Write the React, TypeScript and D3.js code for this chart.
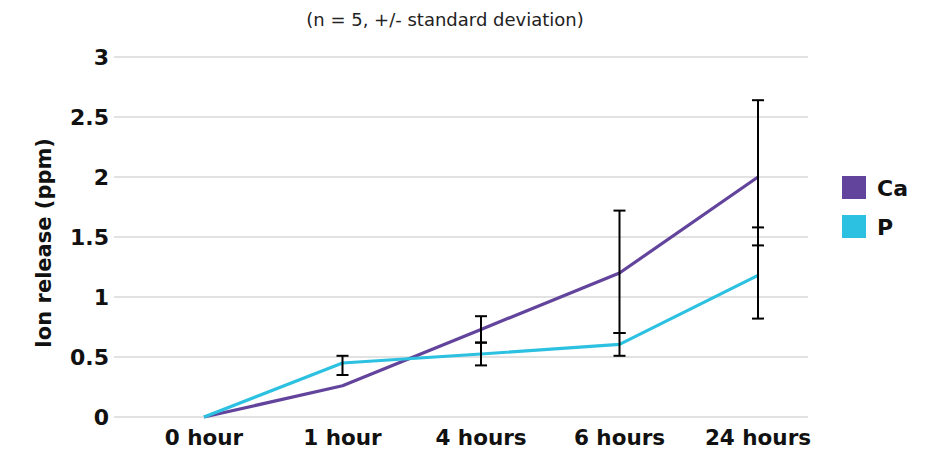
import React, { useEffect, useRef } from 'react';
import * as d3 from 'd3';

const WIDTH = 928;
const HEIGHT = 450;

const categories = ['0 hour', '1 hour', '4 hours', '6 hours', '24 hours'];
const yTicks = [0, 0.5, 1, 1.5, 2, 2.5, 3];

const caValues = [0, 0.26, 0.73, 1.2, 2.0];
const caHigh: (number | null)[] = [null, null, 0.84, 1.72, 2.64];
const caLow: (number | null)[] = [null, null, 0.62, 0.7, 1.43];

const pValues = [0, 0.45, 0.525, 0.605, 1.18];
const pHigh: (number | null)[] = [null, 0.51, 0.62, 0.7, 1.58];
const pLow: (number | null)[] = [null, 0.35, 0.43, 0.51, 0.82];

const CA_COLOR = '#63449c';
const P_COLOR = '#2cc1e0';
const FONT = '"DejaVu Sans", Verdana, sans-serif';

const margin = { left: 114, right: 120, top: 57, bottom: 33 };

const App: React.FC = () => {
  const svgRef = useRef<SVGSVGElement | null>(null);

  useEffect(() => {
    if (!svgRef.current) {
      return;
    }
    const svg = d3.select(svgRef.current);
    svg.selectAll('*').remove();

    const plotRight = WIDTH - margin.right;
    const plotBottom = HEIGHT - margin.bottom;

    const y = d3.scaleLinear().domain([0, 3]).range([plotBottom, margin.top]);
    // points sit a little right of centre in the plot area
    const x = d3.scalePoint<string>()
      .domain(categories)
      .range([margin.left + 90, plotRight - 50]);

    // gridlines
    svg.append('g')
      .selectAll('line')
      .data(yTicks)
      .join('line')
      .attr('x1', margin.left)
      .attr('x2', plotRight)
      .attr('y1', d => y(d))
      .attr('y2', d => y(d))
      .attr('stroke', '#d9d9d9')
      .attr('stroke-width', 1.5);

    // y tick labels
    svg.append('g')
      .attr('font-family', FONT)
      .attr('font-weight', 700)
      .attr('font-size', '22px')
      .attr('text-anchor', 'end')
      .attr('fill', '#111')
      .selectAll('text')
      .data(yTicks)
      .join('text')
      .attr('x', margin.left - 5)
      .attr('y', d => y(d))
      .attr('dy', '0.36em')
      .text(d => String(d));

    // x labels
    svg.append('g')
      .attr('font-family', FONT)
      .attr('font-weight', 700)
      .attr('font-size', '21.5px')
      .attr('text-anchor', 'middle')
      .attr('fill', '#111')
      .selectAll('text')
      .data(categories)
      .join('text')
      .attr('x', d => x(d) ?? 0)
      .attr('y', plotBottom + 28)
      .text(d => d);

    const line = d3.line<number>()
      .x((_, i) => x(categories[i]) ?? 0)
      .y(d => y(d));

    const series = [
      { name: 'Ca', values: caValues, high: caHigh, low: caLow, color: CA_COLOR },
      { name: 'P', values: pValues, high: pHigh, low: pLow, color: P_COLOR },
    ];

    series.forEach(s => {
      svg.append('path')
        .datum(s.values)
        .attr('d', line)
        .attr('fill', 'none')
        .attr('stroke', s.color)
        .attr('stroke-width', 3.2)
        .attr('stroke-linejoin', 'round');
    });

    // error bars
    const capHalf = 6;
    const bars = svg.append('g').attr('stroke', '#000').attr('stroke-width', 2);
    series.forEach(s => {
      categories.forEach((c, i) => {
        const hi = s.high[i];
        const lo = s.low[i];
        if (hi == null || lo == null) {
          return;
        }
        const cx = x(c) ?? 0;
        bars.append('line')
          .attr('x1', cx).attr('x2', cx)
          .attr('y1', y(hi)).attr('y2', y(lo));
        [hi, lo].forEach(v => {
          bars.append('line')
            .attr('x1', cx - capHalf).attr('x2', cx + capHalf)
            .attr('y1', y(v)).attr('y2', y(v));
        });
      });
    });

    // title
    svg.append('text')
      .attr('x', 445)
      .attr('y', 26)
      .attr('text-anchor', 'middle')
      .attr('font-family', FONT)
      .attr('font-size', '18px')
      .attr('fill', '#222')
      .text('(n = 5, +/- standard deviation)');

    // y axis title
    svg.append('text')
      .attr('transform', 'translate(51, 243) rotate(-90)')
      .attr('text-anchor', 'middle')
      .attr('font-family', FONT)
      .attr('font-weight', 700)
      .attr('font-size', '21px')
      .attr('fill', '#111')
      .text('Ion release (ppm)');

    // legend
    const legend = svg.append('g').attr('transform', 'translate(842, 176)');
    series.forEach((s, i) => {
      const row = legend.append('g').attr('transform', `translate(0, ${i * 39})`);
      row.append('rect')
        .attr('width', 24)
        .attr('height', 23)
        .attr('fill', s.color);
      row.append('text')
        .attr('x', 35)
        .attr('y', 20)
        .attr('font-family', FONT)
        .attr('font-weight', 700)
        .attr('font-size', '22px')
        .attr('fill', '#111')
        .text(s.name);
    });
  }, []);

  return (
    <svg
      ref={svgRef}
      width={WIDTH}
      height={HEIGHT}
      style={{ position: 'absolute', left: 0, top: 0, background: '#fff' }}
    />
  );
};

export default App;
